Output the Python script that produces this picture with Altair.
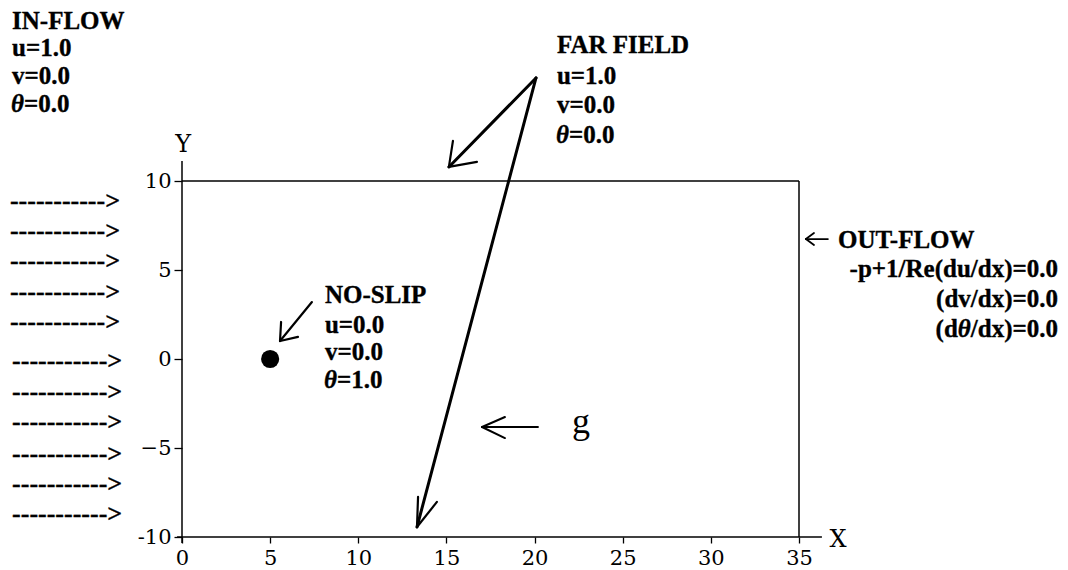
import altair as alt
import pandas as pd

# ---- axis ticks ----
x_ticks = [0, 5, 10, 15, 20, 25, 30, 35]
y_ticks = [-10, -5, 0, 5, 10]

# ---- domain frame and axis lines (data units) ----
frame_x = [0, 35, -0.28, 0]
frame_y = [10, -10, -10, -10.34]
frame_x2 = [35, 35, 36.3, 0]
frame_y2 = [10, 10, -10, 11.12]

# ---- hand-drawn arrows (start -> tip) plus barbs ----
arrow_x = [7.37, 20.08, 20.08, 20.19, 36.64]
arrow_y = [3.20, 15.79, 15.79, -3.82, 6.74]
arrow_x2 = [5.56, 15.14, 13.33, 17.02, 35.39]
arrow_y2 = [1.01, 10.79, -9.44, -3.82, 6.74]
arrow_w = [2.2, 3.0, 3.0, 2.0, 1.8]

barb_x = [5.62, 6.58, 15.37, 16.73, 13.39, 14.46, 18.32, 18.32, 35.85, 35.85]
barb_y = [2.08, 1.24, 12.25, 11.07, -7.75, -8.03, -3.26, -4.44, 7.08, 6.40]
barb_tip_x = [5.56, 5.56, 15.14, 15.14, 13.33, 13.33, 17.02, 17.02, 35.39, 35.39]
barb_tip_y = [1.01, 1.01, 10.79, 10.79, -9.44, -9.44, -3.82, -3.82, 6.74, 6.74]
barb_w = [2.2, 2.2, 2.2, 2.2, 2.2, 2.2, 2.0, 2.0, 1.8, 1.8]

# ---- cylinder (no-slip body) ----
body_x = [5]
body_y = [0]

# ---- in-flow dashed arrows (typed text) ----
flow_y = [8.43, 6.74, 5.06, 3.31, 1.63, -0.56, -2.30, -3.99, -5.79, -7.47, -9.16]
flow_x = [-9.76, -9.76, -9.76, -9.76, -9.76, -9.64, -9.64, -9.64, -9.64, -9.64, -9.64]
flow_text = "----------->"

# ---- bold labels (left aligned) ----
lab_text = ["IN-FLOW", "u=1.0", "v=0.0",
            "FAR FIELD", "u=1.0", "v=0.0",
            "NO-SLIP", "u=0.0", "v=0.0",
            "OUT-FLOW"]
lab_x = [-9.64, -9.64, -9.64, 21.27, 21.27, 21.27, 8.11, 8.11, 8.11, 37.21]
lab_y = [18.54, 17.02, 15.45, 17.19, 15.45, 13.82, 3.15, 1.46, -0.06, 6.24]

# theta lines: italic theta right-aligned at anchor, rest left-aligned
th_anchor_x = [-8.96, 21.95, 8.79]
th_anchor_y = [13.88, 12.13, -1.63]
th_rest = ["=0.0", "=0.0", "=1.0"]

# out-flow right-aligned conditions
of_text = ["-p+1/Re(du/dx)=0.0", "(dv/dx)=0.0", "/dx)=0.0"]
of_right = 49.69
of_y = [4.61, 2.92, 1.24]

# plain serif labels
plain_text = ["Y", "X"]
plain_x = [0.06, 37.21]
plain_y = [11.63, -10.56]
g_x, g_y = 22.63, -4.16

BOLD = "Liberation Serif"
SERIF = "DejaVu Serif"
FS = 25
PX = 617 / 35.0  # pixels per x unit

xs = alt.Scale(domain=[0, 35], nice=False, zero=False)
ys = alt.Scale(domain=[-10, 10], nice=False, zero=False)

ax_x = alt.Axis(values=x_ticks, domain=False, grid=False, ticks=True, tickSize=6,
                tickColor="black", tickWidth=1.3, labelFont=SERIF, labelFontSize=21,
                labelColor="black", labelPadding=4, title=None, labelFlush=False)
ax_y = alt.Axis(values=y_ticks, domain=False, grid=False, ticks=True, tickSize=8,
                tickColor="black", tickWidth=1.3, labelFont=SERIF, labelFontSize=21,
                labelColor="black", labelPadding=3, title=None,
                labelExpr="datum.value == -10 ? '-10' : datum.label")

frame_df = pd.DataFrame({"x": frame_x, "y": frame_y, "x2": frame_x2, "y2": frame_y2})
base = alt.Chart(frame_df).mark_rule(color="black", strokeWidth=1.5).encode(
    x=alt.X("x:Q", scale=xs, axis=ax_x),
    y=alt.Y("y:Q", scale=ys, axis=ax_y),
    x2="x2:Q", y2="y2:Q",
)

arr_df = pd.DataFrame({"x": arrow_x, "y": arrow_y, "x2": arrow_x2, "y2": arrow_y2, "w": arrow_w})
arrows = alt.Chart(arr_df).mark_rule(color="black", strokeCap="round").encode(
    x=alt.X("x:Q", scale=xs), y=alt.Y("y:Q", scale=ys), x2="x2:Q", y2="y2:Q",
    size=alt.Size("w:Q", scale=None, legend=None),
)

barb_df = pd.DataFrame({"x": barb_x, "y": barb_y, "x2": barb_tip_x, "y2": barb_tip_y, "w": barb_w})
barbs = alt.Chart(barb_df).mark_rule(color="black", strokeCap="round").encode(
    x=alt.X("x:Q", scale=xs), y=alt.Y("y:Q", scale=ys), x2="x2:Q", y2="y2:Q",
    size=alt.Size("w:Q", scale=None, legend=None),
)

body_df = pd.DataFrame({"x": body_x, "y": body_y})
body = alt.Chart(body_df).mark_point(filled=True, color="black", size=330, opacity=1, shape="circle").encode(
    x=alt.X("x:Q", scale=xs), y=alt.Y("y:Q", scale=ys),
)

def txt(df, field, xf="x", **kw):
    props = dict(font=BOLD, fontWeight="bold", fontSize=FS, align="left",
                 baseline="alphabetic", color="black", stroke="black", strokeWidth=0.35)
    props.update(kw)
    return alt.Chart(df).mark_text(**props).encode(
        x=alt.X(f"{xf}:Q", scale=xs), y=alt.Y("y:Q", scale=ys), text=f"{field}:N",
    )

flow_df = pd.DataFrame({"x": flow_x, "y": flow_y, "t": [flow_text] * len(flow_y)})
flows = txt(flow_df, "t", fontSize=26)

lab_df = pd.DataFrame({"x": lab_x, "y": lab_y, "t": lab_text})
labels = txt(lab_df, "t")

th_df = pd.DataFrame({"x": th_anchor_x, "y": th_anchor_y, "t": ["\u03b8"] * 3, "r": th_rest})
th_sym = txt(th_df, "t", fontStyle="italic", align="right")
th_rest_m = txt(th_df, "r")

of_df = pd.DataFrame({"x": [of_right] * 3, "y": of_y, "t": of_text})
of_lab = txt(of_df, "t", align="right")

# pieces "(d" + italic θ before "/dx)=0.0" (widths from Times-bold metrics)
w_rest = 3.487 * FS / PX
w_th = 0.52 * FS / PX
ofth_df = pd.DataFrame({"x": [of_right - w_rest], "xa": [of_right - w_rest - w_th], "y": [of_y[2]],
                        "t": ["\u03b8"], "a": ["(d"]})
ofth_b = txt(ofth_df, "t", fontStyle="italic", align="right")
ofth_a = txt(ofth_df, "a", xf="xa", align="right")

plain_df = pd.DataFrame({"x": plain_x, "y": plain_y, "t": plain_text})
plain = alt.Chart(plain_df).mark_text(font=SERIF, fontSize=24, align="center",
                                       baseline="alphabetic", color="black").encode(
    x=alt.X("x:Q", scale=xs), y=alt.Y("y:Q", scale=ys), text="t:N",
)
g_df = pd.DataFrame({"x": [g_x], "y": [g_y], "t": ["g"]})
g_lab = alt.Chart(g_df).mark_text(font=BOLD, fontSize=36, align="center",
                                   baseline="alphabetic", color="black").encode(
    x=alt.X("x:Q", scale=xs), y=alt.Y("y:Q", scale=ys), text="t:N",
)

chart = alt.layer(base, arrows, barbs, body, flows, labels, th_sym, th_rest_m, of_lab,
                  ofth_a, ofth_b, plain, g_lab).properties(
    width=617, height=356,
    autosize=alt.AutoSizeParams(type="none"),
    padding={"left": 174, "top": 173, "right": 261, "bottom": 34},
    background="white",
).configure_view(strokeWidth=0)

chart.save("out.html", embed_options={"renderer": "svg", "actions": False})
